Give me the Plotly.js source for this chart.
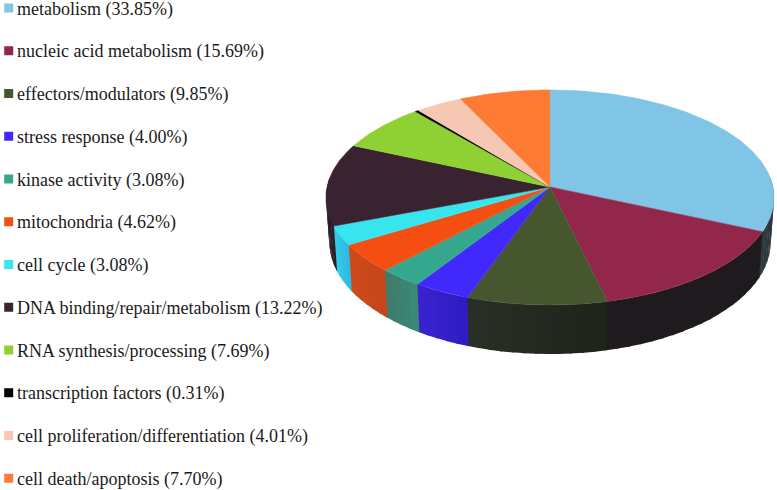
<!DOCTYPE html>
<html><head><meta charset="utf-8">
<script src="https://cdn.plot.ly/plotly-3.0.1.min.js"></script>
<style>html,body{margin:0;padding:0;background:#fff}#c{width:777px;height:490px}</style>
</head><body><div id="c"></div>
<script>
const categories = ["metabolism","nucleic acid metabolism","effectors/modulators","stress response","kinase activity","mitochondria","cell cycle","DNA binding/repair/metabolism","RNA synthesis/processing","transcription factors","cell proliferation/differentiation","cell death/apoptosis"];
const percents = [33.85,15.69,9.85,4.00,3.08,4.62,3.08,13.22,7.69,0.31,4.01,7.70];
const topColors = ["#80c4e6","#93264b","#46562f","#4129fb","#36a78f","#f44e13","#38e4ee","#3a2330","#8fd033","#000000","#f6c7b2","#fd7b35"];
const wallStart = ["#26292c","#1e1a1e","#1e2319","#2d1cc0","#3b8a76","#c4461a","#2eb8e0","#2a1e28","#000000","#000000","#000000","#000000"];
const wallEnd   = ["#303c42","#1e1a1e","#2b2f25","#3a23cf","#3e7a6a","#cf4a1c","#33cdea","#2a1e28","#000000","#000000","#000000","#000000"];

const G = {cx:550, cy:187, A:223, B:106.5, k:-0.0977, shrink:0.985, depth:44, depthFront:5};
const rows = {x:8.7, tx:17, y0:10.2, dy:42.75, markerY0:8};

function topPt(deg){
  const t = deg*Math.PI/180, u = Math.sin(t), v = -Math.cos(t), d = 1+G.k*v;
  return [G.cx+G.A*u/d, G.cy+G.B*v/d, v];
}
function botPt(deg){
  const p = topPt(deg);
  return [G.cx+(p[0]-G.cx)*G.shrink, p[1]+G.depth+G.depthFront*p[2]];
}
function hex(c){return [1,3,5].map(i=>parseInt(c.substr(i,2),16));}
function mix(a,b,f){const A=hex(a),B=hex(b);return `rgb(${A.map((x,i)=>Math.round(x+(B[i]-x)*f)).join(",")})`;}
function poly(xs,ys,color,w){
  return {type:"scatter",mode:"lines",x:xs,y:ys,fill:"toself",fillcolor:color,
          line:{color:color,width:w},hoverinfo:"skip",showlegend:false};
}
const total = percents.reduce((a,b)=>a+b,0);
const traces = [];
const tops = [];
let cum = 0;
const wallFrom = 84, wallTo = 276, overlap = 0.5;
percents.forEach((p,i)=>{
  const a0 = cum/total*360, a1 = (cum+p)/total*360;
  cum += p;
  const w0 = Math.max(a0,wallFrom), w1 = Math.min(a1,wallTo);
  if (w1>w0){
    const n = Math.max(1,Math.ceil((w1-w0)/3));
    for(let s=0;s<n;s++){
      const b0=w0+(w1-w0)*s/n, b1=Math.min(wallTo,w0+(w1-w0)*(s+1)/n+overlap), xs=[],ys=[];
      for(let d=0;d<=6;d++){const q=topPt(b0+(b1-b0)*d/6);xs.push(q[0]);ys.push(q[1]);}
      for(let d=6;d>=0;d--){const q=botPt(b0+(b1-b0)*d/6);xs.push(q[0]);ys.push(q[1]);}
      traces.push(poly(xs,ys,mix(wallStart[i],wallEnd[i],(s+.5)/n),0));
    }
  }
  const xs=[G.cx],ys=[G.cy];
  const m=Math.max(2,Math.ceil(a1-a0));
  for(let d=0;d<=m;d++){const q=topPt(a0+(a1-a0)*d/m);xs.push(q[0]);ys.push(q[1]);}
  tops.push(poly(xs,ys,topColors[i],0.6));
});
traces.push(...tops);
traces.push({type:"scatter",mode:"markers",x:categories.map(()=>rows.x),y:categories.map((_,i)=>rows.markerY0+rows.dy*i),
  marker:{symbol:"square",size:9,color:topColors,line:{width:0}},hoverinfo:"skip",showlegend:false});
traces.push({type:"scatter",mode:"text",x:categories.map(()=>rows.tx),y:categories.map((_,i)=>rows.y0+rows.dy*i),
  text:categories.map((c,i)=>`${c} (${percents[i].toFixed(2)}%)`),textposition:"middle right",
  textfont:{family:"Liberation Serif, Times New Roman, serif",size:18,color:"#1a1a1a"},
  hoverinfo:"skip",showlegend:false,cliponaxis:false});
Plotly.newPlot("c",traces,{
  width:777,height:490,margin:{l:0,r:0,t:0,b:0},paper_bgcolor:"#fff",plot_bgcolor:"#fff",showlegend:false,
  xaxis:{range:[0,777],visible:false,fixedrange:true},
  yaxis:{range:[490,0],visible:false,fixedrange:true}
},{displayModeBar:false,staticPlot:true});
</script></body></html>
